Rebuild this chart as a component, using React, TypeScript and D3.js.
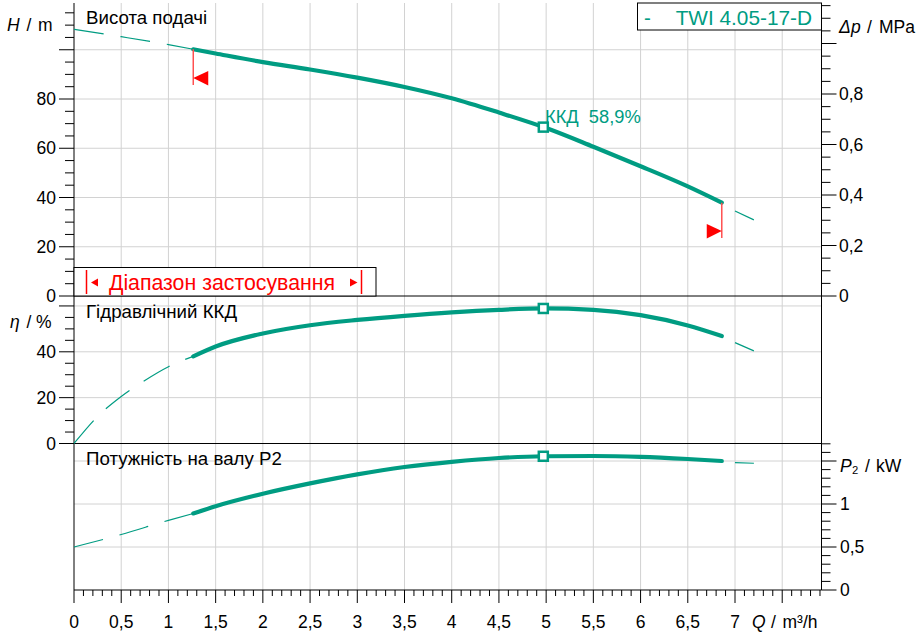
import React from "react";
import * as d3 from "d3";

// ---- Data ----
const headQ = [0, 0.5, 1, 1.263, 1.5, 2, 2.5, 3, 3.5, 4, 4.5, 5, 5.5, 6, 6.5, 6.86, 7, 7.2];
const headH = [108.3, 105.3, 102.1, 100.2, 98.5, 95.0, 92.0, 88.7, 84.9, 80.3, 74.5, 68.2, 60.6, 52.7, 44.5, 37.9, 34.5, 30.9];

const etaQ = [0, 0.25, 0.5, 0.75, 1, 1.263, 1.5, 2, 2.5, 3, 3.5, 4, 4.5, 4.97, 5.5, 6, 6.5, 6.86, 7, 7.2];
const etaV = [0, 11.8, 20.5, 27.5, 33.5, 38.0, 42.3, 48.0, 51.6, 53.9, 55.7, 57.2, 58.3, 58.9, 58.3, 56.0, 51.5, 46.9, 44.0, 40.4];

const powQ = [0, 0.5, 1, 1.263, 1.5, 2, 2.5, 3, 3.5, 4, 4.5, 4.97, 5.5, 6, 6.5, 6.86, 7, 7.2];
const powP = [0.5, 0.645, 0.81, 0.89, 0.975, 1.12, 1.24, 1.345, 1.43, 1.49, 1.535, 1.555, 1.558, 1.548, 1.523, 1.5, 1.482, 1.474];

const qStart = 1.263; // application range start
const qEnd = 6.86; // application range end
const qExtStart = 7.0;
const qExtEnd = 7.2;
const bepQ = 4.97;
const bepLabel = "ККД  58,9%";
const legendLabel = "TWI 4.05-17-D";

const xTickLabels = ["0", "0,5", "1", "1,5", "2", "2,5", "3", "3,5", "4", "4,5", "5", "5,5", "6", "6,5", "7"];
const hLabels = [0, 20, 40, 60, 80];
const dpLabels = [0, 0.2, 0.4, 0.6, 0.8];
const etaLabels = [0, 20, 40];
const pLabels = [0, 0.5, 1];

const TEAL = "#009c82";
const GRID = "#d2d2d2";
const FONT = "'Liberation Sans', Arial, Helvetica, sans-serif";
const TICK_FS = 17.5;
const TITLE_FS = 18.7;

const X0 = 74, X1 = 821.5;
const Y_TOP = 3, Y_M1 = 296, Y_M2 = 443.5, Y_BOT = 590;

const x = d3.scaleLinear().domain([0, 7]).range([74, 735]);
const hY = d3.scaleLinear().domain([0, 80]).range([296, 99]);
const dpY = d3.scaleLinear().domain([0, 1]).range([296, 43.5]);
const etaY = d3.scaleLinear().domain([0, 40]).range([443.5, 351.8]);
const pY = d3.scaleLinear().domain([0, 1]).range([590, 504]);

const fmt = (v: number) => String(+v.toFixed(2)).replace(".", ",");

function valAt(qs: number[], vs: number[], q: number) {
  for (let i = 0; i < qs.length - 1; i++) {
    if (q >= qs[i] && q <= qs[i + 1]) {
      const t = (q - qs[i]) / (qs[i + 1] - qs[i]);
      return vs[i] + t * (vs[i + 1] - vs[i]);
    }
  }
  return vs[vs.length - 1];
}

const fullLine = d3.line<[number, number]>().curve(d3.curveMonotoneX);

function seg(qs: number[], vs: number[], yS: d3.ScaleLinear<number, number>, a: number, b: number) {
  const pts: [number, number][] = [];
  const has = (q: number) => qs.some(v => Math.abs(v - q) < 1e-6);
  if (!has(a)) pts.push([a, valAt(qs, vs, a)]);
  qs.forEach((q, i) => { if (q >= a - 1e-6 && q <= b + 1e-6) pts.push([q, vs[i]]); });
  if (!has(b)) pts.push([b, valAt(qs, vs, b)]);
  pts.sort((p, q) => p[0] - q[0]);
  return fullLine(pts.map(p => [x(p[0]), yS(p[1])] as [number, number])) || "";
}

function Curve({ qs, vs, yS }: { qs: number[]; vs: number[]; yS: any }) {
  const mx = x(bepQ), my = yS(valAt(qs, vs, bepQ));
  return (
    <g>
      <path d={seg(qs, vs, yS, 0, qStart)} fill="none" stroke={TEAL} strokeWidth={1.2} strokeDasharray="30,17" />
      <path d={seg(qs, vs, yS, qStart, qEnd)} fill="none" stroke={TEAL} strokeWidth={4.2} strokeLinecap="round" />
      <path d={seg(qs, vs, yS, qExtStart, qExtEnd)} fill="none" stroke={TEAL} strokeWidth={1.2} />
      <rect x={mx - 4.5} y={my - 4.5} width={9} height={9} fill="#fff" stroke={TEAL} strokeWidth={2.5} />
    </g>
  );
}

export default function App() {
  const qMax = x.invert(X1);
  const minorX = d3.range(0, qMax + 1e-6, 0.1);
  const gridX = d3.range(0.5, qMax, 0.5);
  const hTicks = d3.range(0, 116, 5);
  const dpTicks = d3.range(0, 1.151, 0.05);
  const etaTicks = d3.range(0, 61, 5);
  const pTicks = d3.range(0, 1.701, 0.1);
  const isMul = (v: number, m: number) => Math.abs(v / m - Math.round(v / m)) < 1e-6;

  const hStartY = hY(valAt(headQ, headH, qStart));
  const hEndY = hY(valAt(headQ, headH, qEnd));
  const xs = x(qStart), xe = x(qEnd);

  return (
    <svg width={916} height={634} style={{ position: "absolute", left: 0, top: 0, fontFamily: FONT }}>
      <rect width={916} height={634} fill="#fff" />
      {/* vertical grid */}
      {gridX.map(q => (
        <line key={"gx" + q} x1={x(q)} x2={x(q)} y1={Y_TOP} y2={Y_BOT} stroke={GRID} strokeWidth={1} />
      ))}
      {/* horizontal grid */}
      {[20, 40, 60, 80, 100].map(v => (
        <line key={"gh" + v} x1={X0} x2={X1} y1={hY(v)} y2={hY(v)} stroke={GRID} />
      ))}
      {[20, 40, 60].map(v => (
        <line key={"ge" + v} x1={X0} x2={X1} y1={etaY(v)} y2={etaY(v)} stroke={GRID} />
      ))}
      {[0.5, 1, 1.5].map(v => (
        <line key={"gp" + v} x1={X0} x2={X1} y1={pY(v)} y2={pY(v)} stroke={GRID} />
      ))}

      {/* axes frame */}
      <line x1={X0} x2={X0} y1={Y_TOP} y2={Y_BOT} stroke="#000" />
      <line x1={X1} x2={X1} y1={Y_TOP} y2={Y_BOT} stroke="#000" />
      <line x1={X0} x2={X1} y1={Y_M1} y2={Y_M1} stroke="#000" />
      <line x1={X0} x2={X1} y1={Y_M2} y2={Y_M2} stroke="#000" />
      <line x1={X0} x2={X1} y1={Y_BOT} y2={Y_BOT} stroke="#000" />

      {/* bottom ticks */}
      {minorX.map(q => {
        const maj = isMul(q, 0.5);
        return <line key={"tx" + q} x1={x(q)} x2={x(q)} y1={Y_BOT} y2={Y_BOT + (maj ? 13 : 6)} stroke="#000" />;
      })}
      {xTickLabels.map((t, i) => (
        <text key={"lx" + i} x={x(i * 0.5)} y={628} fontSize={TICK_FS} textAnchor="middle">{t}</text>
      ))}
      <text y={628} fontSize={TICK_FS}>
        <tspan x={752} fontStyle="italic">Q</tspan>
        <tspan x={771}>/</tspan>
        <tspan x={782.5}>m³/h</tspan>
      </text>

      {/* left H ticks */}
      {hTicks.map(v => (
        <line key={"th" + v} x1={X0} x2={X0 - (isMul(v, 20) ? 15 : 9)} y1={hY(v)} y2={hY(v)} stroke="#000" />
      ))}
      {hLabels.map(v => (
        <text key={"lh" + v} x={56} y={hY(v) + 6} fontSize={TICK_FS} textAnchor="end">{v}</text>
      ))}
      <text y={31} fontSize={TICK_FS}>
        <tspan x={7} fontStyle="italic">H</tspan>
        <tspan x={26.5}>/</tspan>
        <tspan x={38}>m</tspan>
      </text>

      {/* right dp ticks */}
      {dpTicks.map(v => (
        <line key={"td" + v} x1={X1} x2={X1 + (isMul(v, 0.2) ? 15 : 9)} y1={dpY(v)} y2={dpY(v)} stroke="#000" />
      ))}
      {dpLabels.map(v => (
        <text key={"ld" + v} x={839} y={dpY(v) + 6} fontSize={TICK_FS}>{fmt(v)}</text>
      ))}
      <text y={33} fontSize={TICK_FS}>
        <tspan x={839} fontStyle="italic">Δ</tspan>
        <tspan x={851} fontStyle="italic">p</tspan>
        <tspan x={867}>/</tspan>
        <tspan x={879}>MPa</tspan>
      </text>

      {/* left eta ticks */}
      {etaTicks.map(v => (
        <line key={"te" + v} x1={X0} x2={X0 - (isMul(v, 20) ? 15 : 9)} y1={etaY(v)} y2={etaY(v)} stroke="#000" />
      ))}
      {etaLabels.map(v => (
        <text key={"le" + v} x={56} y={etaY(v) + 6} fontSize={TICK_FS} textAnchor="end">{v}</text>
      ))}
      <text y={328} fontSize={TICK_FS}>
        <tspan x={10} fontStyle="italic">η</tspan>
        <tspan x={26.5}>/</tspan>
        <tspan x={36}>%</tspan>
      </text>

      {/* right P ticks */}
      {pTicks.map(v => (
        <line key={"tp" + v} x1={X1} x2={X1 + (isMul(v, 0.5) ? 15 : 9)} y1={pY(v)} y2={pY(v)} stroke="#000" />
      ))}
      {pLabels.map(v => (
        <text key={"lp" + v} x={840} y={pY(v) + 6} fontSize={TICK_FS}>{fmt(v)}</text>
      ))}
      <text y={472} fontSize={TICK_FS}>
        <tspan x={840} fontStyle="italic">P</tspan>
        <tspan>₂</tspan>
        <tspan x={865}>/</tspan>
        <tspan x={876}>kW</tspan>
      </text>

      {/* panel titles */}
      <text x={86} y={24} fontSize={TITLE_FS}>Висота подачі</text>
      <text x={86} y={318} fontSize={TITLE_FS}>Гідравлічний ККД</text>
      <text x={86} y={465} fontSize={TITLE_FS}>Потужність на валу P2</text>

      {/* curves */}
      <Curve qs={headQ} vs={headH} yS={hY} />
      <Curve qs={etaQ} vs={etaV} yS={etaY} />
      <Curve qs={powQ} vs={powP} yS={pY} />

      <text x={545} y={123} fontSize={18.3} fill={TEAL} style={{ whiteSpace: "pre" }}>{bepLabel}</text>

      {/* range markers on H curve */}
      <line x1={xs} x2={xs} y1={hStartY} y2={85} stroke="#ff5050" strokeWidth={1.5} />
      <path d={`M${xs},${78} L${xs + 15},${71} L${xs + 15},${85.5} Z`} fill="#ff0000" />
      <line x1={xe} x2={xe} y1={hEndY} y2={238} stroke="#ff5050" strokeWidth={1.5} />
      <path d={`M${xe},${231} L${xe - 15},${224} L${xe - 15},${238.5} Z`} fill="#ff0000" />

      {/* application range box */}
      <rect x={X0} y={267.5} width={376 - X0} height={Y_M1 - 267.5} fill="#fff" stroke="#000" />
      <line x1={86.5} x2={86.5} y1={270} y2={294} stroke="#ff0000" strokeWidth={1.5} />
      <line x1={361.5} x2={361.5} y1={270} y2={294} stroke="#ff0000" strokeWidth={1.5} />
      <path d="M91,282.5 L98,278.5 L98,286.5 Z" fill="#ff0000" />
      <path d="M357.5,282.5 L350,278.5 L350,286.5 Z" fill="#ff0000" />
      <text x={222} y={290} fontSize={21.3} fill="#ff0000" textAnchor="middle">Діапазон застосування</text>

      {/* legend */}
      <rect x={637.5} y={3} width={X1 - 637.5} height={27} fill="#fff" stroke="#000" />
      <text x={644} y={24.5} fontSize={20.5} fill={TEAL}>-</text>
      <text x={812} y={24.5} fontSize={20.8} fill={TEAL} textAnchor="end">{legendLabel}</text>
    </svg>
  );
}
